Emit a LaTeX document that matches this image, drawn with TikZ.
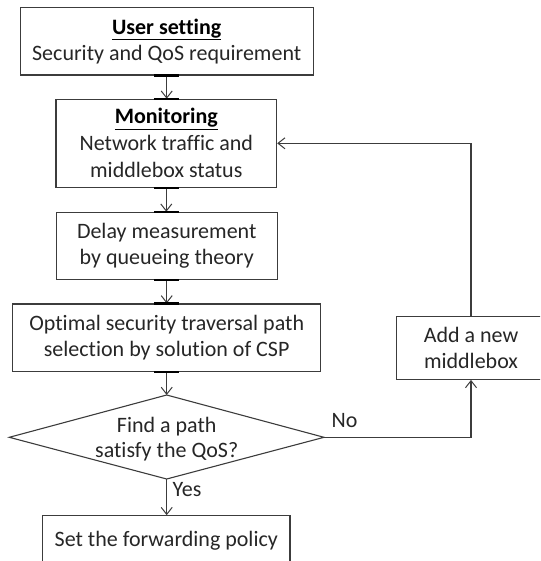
\documentclass[tikz,border=0pt]{standalone}
\usepackage{fontspec}
\setmainfont{Carlito}[Ligatures=NoCommon]
\usetikzlibrary{arrows.meta}
\definecolor{txt}{HTML}{262626}
\definecolor{ln}{HTML}{3C3C3C}
\begin{document}
\begin{tikzpicture}[x=1pt,y=-1pt,
  box/.style={draw=ln, line width=1.1pt, rectangle, inner sep=0pt, align=center, text=txt, font=\fontsize{22}{26}\selectfont},
  conn/.style={draw=ln, line width=1.1pt, -{Straight Barb[length=7pt,width=11pt,line width=1pt]}},
  joint/.style={draw=black, line width=2.2pt},
  lbl/.style={text=txt, font=\fontsize{22}{26}\selectfont, inner sep=0pt}]
\useasboundingbox (0,0) rectangle (540,561);
\begin{scope}
\clip (0,0) rectangle (540,561);
\node[box, minimum width=293.3pt, minimum height=67.7pt] (user) at (166.7,41.2)
  {\textcolor{black}{\textbf{\underline{User setting}}}\\Security and QoS requirement};
\node[box, minimum width=220.7pt, minimum height=88pt, font=\fontsize{22}{27}\selectfont] (mon) at (166.3,143.3)
  {\textcolor{black}{\textbf{\underline{Monitoring}}}\\Network traffic and\\middlebox status};
\node[box, minimum width=221.3pt, minimum height=67pt] (delay) at (166.7,245.8)
  {Delay measurement\\by queueing theory};
\node[box, minimum width=308pt, minimum height=67.7pt] (opt) at (166.7,337.8)
  {Optimal security traversal path\\selection by solution of CSP};
\node[box, minimum width=148.6pt, minimum height=63.3pt] (add) at (471,347.7)
  {Add a new\\middlebox};
\node[box, minimum width=247.3pt, minimum height=50pt] (fwd) at (166.3,540.7)
  {Set the forwarding policy};
\coordinate (dW) at (9.3,437.3);
\coordinate (dN) at (166.7,395);
\coordinate (dE) at (324,437.3);
\coordinate (dS) at (166.7,479);
\draw[draw=ln, line width=1.1pt] (dN) -- (dE) -- (dS) -- (dW) -- cycle;
\node[lbl, align=center, font=\fontsize{22}{25}\selectfont] (dia) at (166.7,439) {Find a path\\satisfy the QoS?};
\draw[conn] (user.south) -- (user.south |- mon.north);
\draw[conn] (mon.south) -- (mon.south |- delay.north);
\draw[conn] (delay.south) -- (opt.north);
\draw[conn] (opt.south) -- (dN);
\draw[conn] (dS) -- (dS |- fwd.north);
\draw[conn] (dE) -| (add.south);
\draw[conn] (add.north) |- (mon.east);
\node[lbl, anchor=base west] (no) at (331.5,427.7) {No};
\node[lbl, anchor=west] (yes) at (172.5,490) {Yes};
\foreach \n/\a in {user/south, mon/north, mon/south, delay/north, delay/south, opt/north, opt/south}
  \draw[joint] ([xshift=-12.5pt]\n.\a) -- ([xshift=12.5pt]\n.\a);
\end{scope}
\end{tikzpicture}
\end{document}
